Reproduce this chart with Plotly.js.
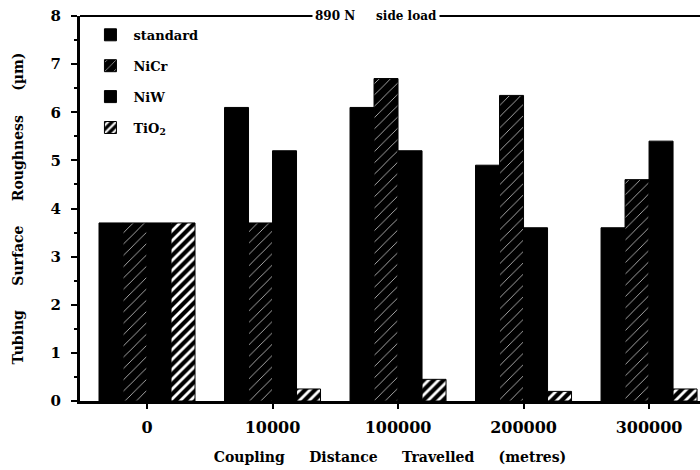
<!DOCTYPE html>
<html>
<head>
<meta charset="utf-8">
<script src="https://cdn.plot.ly/plotly-3.0.1.min.js"></script>
<style>
  html, body { margin: 0; padding: 0; background: #fff; }
  #chart { width: 700px; height: 470px; }
</style>
</head>
<body>
<div id="chart"></div>
<script>
// Coupling distance travelled (metres), one group of bars per distance
const distances = ['0', '10000', '100000', '200000', '300000'];

// Tubing surface roughness (µm) for each coupling coating
const standard = [3.7, 6.1, 6.1, 4.9, 3.6];
const niCr     = [3.7, 3.7, 6.7, 6.35, 4.6];
const niW      = [3.7, 5.2, 5.2, 3.6, 5.4];
const tiO2     = [3.7, 0.25, 0.45, 0.2, 0.25];

const seriesNames = ['standard', 'NiCr', 'NiW', 'TiO<sub>2</sub>'];
const yTicks = [0, 1, 2, 3, 4, 5, 6, 7, 8];

const serif = 'DejaVu Serif, Liberation Serif, serif';
const ink = '#000';
const gap = '\u00a0\u00a0\u00a0\u00a0\u00a0';

function barTrace(name, values, pattern) {
  const marker = { color: ink, line: { color: ink, width: 1 } };
  if (pattern) marker.pattern = pattern;
  return {
    type: 'bar',
    name: name,
    x: distances,
    y: values,
    marker: marker,
    legendgroup: name,
    hoverinfo: 'x+y+name'
  };
}

const traces = [
  barTrace(seriesNames[0], standard),
  barTrace(seriesNames[1], niCr, { shape: '/', fgcolor: '#fff', bgcolor: ink, size: 8, solidity: 0.08 }),
  barTrace(seriesNames[2], niW),
  barTrace(seriesNames[3], tiO2, { shape: '/', fgcolor: '#fff', bgcolor: ink, size: 7, solidity: 0.4 })
];

const layout = {
  width: 700,
  height: 470,
  margin: { l: 80, r: 0, t: 16, b: 69 },
  paper_bgcolor: '#fff',
  plot_bgcolor: '#fff',
  font: { family: serif, color: ink, size: 13, weight: 'bold' },
  barmode: 'group',
  bargap: 0.235,
  bargroupgap: 0,
  showlegend: true,
  legend: {
    x: 0.012, y: 0.99, xanchor: 'left', yanchor: 'top',
    bgcolor: 'rgba(0,0,0,0)',
    font: { family: serif, size: 13, color: ink, weight: 'bold' },
    traceorder: 'grouped',
    tracegroupgap: 11,
    itemwidth: 36
  },
  xaxis: {
    type: 'category',
    range: [-0.534, 4.406],
    showline: true, linecolor: ink, linewidth: 3,
    showgrid: false, zeroline: false,
    ticks: 'outside', ticklen: 5, tickwidth: 2, tickcolor: ink,
    ticklabelstandoff: 5,
    tickfont: { family: serif, size: 16, color: ink, weight: 'bold' },
    title: {
      text: 'Coupling' + gap + 'Distance' + gap + 'Travelled' + gap + '(metres)',
      font: { family: serif, size: 14, color: ink, weight: 'bold' },
      standoff: 16
    },
    fixedrange: true
  },
  yaxis: {
    range: [0, 8],
    tickvals: yTicks,
    ticktext: yTicks.map(String),
    showline: true, linecolor: ink, linewidth: 3,
    showgrid: false, zeroline: false,
    ticks: 'outside', ticklen: 6, tickwidth: 2, tickcolor: ink,
    ticklabelstandoff: 7,
    tickfont: { family: serif, size: 15, color: ink, weight: 'bold' },
    minor: { dtick: 0.5, ticks: 'outside', ticklen: 3, tickwidth: 2, tickcolor: ink, showgrid: false },
    title: {
      text: 'Tubing' + gap + 'Surface' + gap + 'Roughness' + gap + '(µm)',
      font: { family: serif, size: 14, color: ink, weight: 'bold' },
      standoff: 24
    },
    fixedrange: true
  },
  shapes: [
    // top border line carrying the load label
    { type: 'line', xref: 'paper', yref: 'paper', x0: 0, x1: 1, y0: 1, y1: 1,
      line: { color: ink, width: 2 } }
  ],
  annotations: [
    { xref: 'paper', yref: 'paper', x: 0.478, y: 1, xanchor: 'center', yanchor: 'middle',
      text: '890 N' + gap + 'side load', showarrow: false,
      bgcolor: '#fff', borderpad: 2,
      font: { family: serif, size: 12, color: ink, weight: 'bold' } }
  ]
};

Plotly.newPlot('chart', traces, layout, { displayModeBar: false, staticPlot: true });
</script>
</body>
</html>
